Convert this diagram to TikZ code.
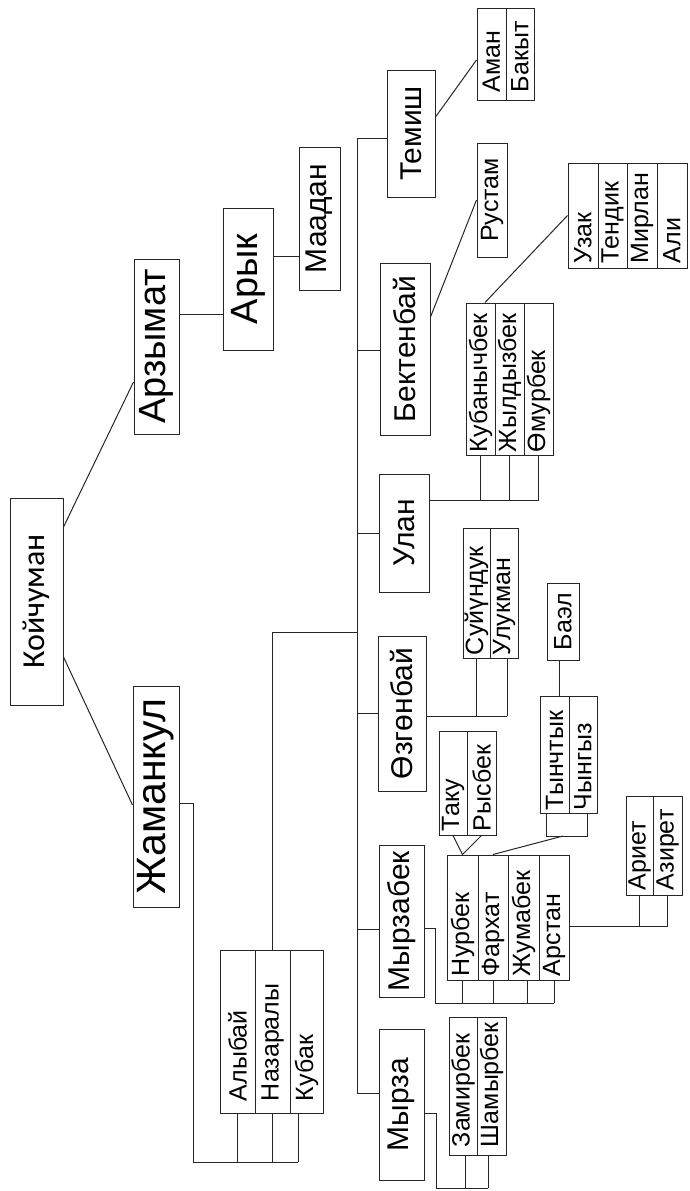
\documentclass[tikz,border=0pt]{standalone}
\usepackage{fontspec}
\setmainfont{Liberation Sans}
\newfontfamily\kojfont{Carlito}
\usepackage{graphicx}
\newcommand{\stretchf}{1.0}
\newcommand{\vt}[1]{\rotatebox{90}{\scalebox{\stretchf}[1]{#1}}}
\newcommand{\szBig}{\fontsize{38}{40}\selectfont}
\newcommand{\szHuge}{\fontsize{41}{43}\selectfont}
\newcommand{\szMed}{\fontsize{30}{32}\selectfont}
\newcommand{\szSm}{\fontsize{25}{27}\selectfont}
\tikzset{
  frame/.style={draw=black!85, line width=1pt, inner sep=0pt, fill=white},
  link/.style={draw=black!85, line width=1pt},
}
% name, x1, x2, y1, y2, font, text
\newcommand{\boxnode}[7]{%
  \node[frame, minimum width={(#3-#2)*1pt}, minimum height={(#5-#4)*1pt}]
    (#1) at ({(#2+#3)/2},{(#4+#5)/2}) {#6\vt{#7}};}
% name, x1, x2, y1, y2, pad, text
\newcommand{\cellnode}[7]{%
  \node[frame, minimum width={(#3-#2)*1pt}, minimum height={(#5-#4)*1pt}]
    (#1) at ({(#2+#3)/2},{(#4+#5)/2})
    {\szSm\rotatebox{90}{\makebox[\dimexpr #5pt-#4pt-#6pt-#6pt\relax][l]{\scalebox{\stretchf}[1]{#7}}}};}
\begin{document}
\begin{tikzpicture}[x=1pt,y=-1pt]
\fill[white] (0,0) rectangle (689,1191);
\useasboundingbox (0,0) rectangle (689,1191);

% ---- boxes ----
\boxnode{koj}{10}{63}{498}{705}{\kojfont\fontsize{32}{34}\selectfont}{Койчуман}
\boxnode{arz}{134}{179}{259}{434}{\szBig}{Арзымат}
\boxnode{zham}{133}{179}{686}{907}{\szHuge}{Жаманкул}
\boxnode{aryk}{223}{273}{208}{350}{\szBig}{Арык}
\boxnode{maadan}{299}{340}{147}{290}{\szMed}{Маадан}
\boxnode{temish}{387}{435}{70}{197}{\szMed}{Темиш}
\boxnode{bekt}{380}{430}{263}{435}{\szMed}{Бектенбай}
\boxnode{rustam}{477}{507}{143}{257}{\szSm}{Рустам}
\boxnode{ulan}{379}{429}{474}{592}{\szMed}{Улан}
\boxnode{ozgon}{378}{426}{636}{791}{\szMed}{Өзгөнбай}
\boxnode{bael}{547}{579}{583}{660}{\szSm}{Баэл}
\boxnode{myrzabek}{379}{424}{845}{997}{\szMed}{Мырзабек}
\boxnode{myrza}{379}{424}{1029}{1180}{\szMed}{Мырза}

\cellnode{aman}{477}{506}{8}{100}{8}{Аман}
\cellnode{bakyt}{506}{534}{8}{100}{8}{Бакыт}

\cellnode{uzak}{568}{598}{163}{268}{5}{Узак}
\cellnode{tendik}{598}{627}{163}{268}{5}{Тендик}
\cellnode{mirlan}{627}{657}{163}{268}{5}{Мирлан}
\cellnode{ali}{657}{687}{163}{268}{5}{Али}

\cellnode{kuban}{466}{495}{303}{455}{3}{Кубанычбек}
\cellnode{zhyld}{495}{524}{303}{455}{3}{Жылдызбек}
\cellnode{omur}{524}{553}{303}{455}{3}{Өмурбек}

\cellnode{suyun}{463}{490}{528}{658}{3}{Суйүндук}
\cellnode{uluk}{490}{518}{528}{658}{3}{Улукман}

\cellnode{tynch}{540}{569}{696}{813}{3}{Тынчтык}
\cellnode{chyng}{569}{597}{696}{813}{3}{Чынгыз}

\cellnode{taku}{439}{467}{731}{835}{4}{Таку}
\cellnode{rysbek}{467}{496}{731}{835}{4}{Рысбек}

\cellnode{nurbek}{447}{478}{855}{980}{4}{Нурбек}
\cellnode{farkhat}{478}{508}{855}{980}{4}{Фархат}
\cellnode{zhumabek}{508}{539}{855}{980}{4}{Жумабек}
\cellnode{arstan}{539}{569}{855}{980}{4}{Арстан}

\cellnode{ariet}{626}{653}{796}{895}{5}{Ариет}
\cellnode{aziret}{653}{682}{796}{895}{5}{Азирет}

\cellnode{zamir}{449}{477}{1017}{1155}{8}{Замирбек}
\cellnode{shamyr}{477}{506}{1017}{1155}{8}{Шамырбек}

\cellnode{alybai}{220}{255}{950}{1113}{12}{Алыбай}
\cellnode{nazar}{255}{290}{950}{1113}{12}{Назаралы}
\cellnode{kubak}{290}{323}{950}{1113}{12}{Кубак}

% ---- connectors ----
\draw[link] (koj.east |- 0,527) -- (arz.west |- 0,382);
\draw[link] (koj.east |- 0,657) -- (zham.west |- 0,805);
\draw[link] (arz.east |- 0,314) -- (aryk.west |- 0,314);
\draw[link] (aryk.east |- 0,256) -- (maadan.west |- 0,256);

% Жаманкул -> Алыбай / Назаралы / Кубак
\coordinate (jb) at (193,1162);
\draw[link] (zham.east |- 0,803) -| (jb) -- (298,1162);
\draw[link] (alybai.south) -- (alybai.south |- jb);
\draw[link] (nazar.south) -- (nazar.south |- jb);
\draw[link] (kubak.south -| 298,0) -- (298,1162);

% trunk
\coordinate (ttop) at (357,138);
\coordinate (tbot) at (357,1093);
\draw[link] (temish.west |- ttop) -- (ttop) -- (tbot) -- (myrza.west |- tbot);
\draw[link] (nazar.north) |- (357,632);
\draw[link] (bekt.west |- 0,350) -- (357,350);
\draw[link] (ulan.west |- 0,533) -- (357,533);
\draw[link] (ozgon.west |- 0,713) -- (357,713);
\draw[link] (myrzabek.west |- 0,929) -- (357,929);

% Темиш -> Аман
\draw[link] (temish.east |- 0,117) -- (aman.west |- 0,60);
% Бектенбай -> Рустам
\draw[link] (bekt.east |- 0,317) -- (rustam.west);
% Кубанычбек -> Узак
\draw[link] (kuban.north -| 485,0) -- (uzak.west);

% Улан -> Кубанычбек ...
\coordinate (ub) at (0,500);
\draw[link] (ulan.east |- ub) -- (omur.south |- ub);
\foreach \c in {kuban,zhyld,omur} \draw[link] (\c.south) -- (\c.south |- ub);

% Өзгөнбай -> Суйүндук / Улукман
\coordinate (ob) at (0,716);
\draw[link] (ozgon.east |- ob) -- (507,716);
\draw[link] (suyun.south) -- (suyun.south |- ob);
\draw[link] (uluk.south -| 507,0) -- (507,716);

% Баэл -> Тынчтык
\draw[link] (bael.south -| 559,0) -- (tynch.north -| 559,0);

% Тынчтык / Чынгыз -> Фархат
\coordinate (tb) at (563,836);
\draw[link] (tynch.south -| 546,0) |- (587,836) -- (chyng.south -| 587,0);
\draw[link] (tb) -- (farkhat.north);

% Таку / Рысбек -> Нурбек
\draw[link] (taku.south) -- (nurbek.north) -- (rysbek.south);

% Мырзабек -> Нурбек ...
\coordinate (mb) at (0,1003);
\draw[link] (myrzabek.east |- 0,928) -| (435,1003) -- (arstan.south |- mb);
\foreach \c in {nurbek,farkhat,arstan} \draw[link] (\c.south) -- (\c.south |- mb);
\draw[link] (zhumabek.south -| 527,0) -- (527,1003);

% Арстан -> Ариет / Азирет
\coordinate (ab) at (0,926);
\draw[link] (arstan.east |- ab) -- (aziret.south |- ab);
\foreach \c in {ariet,aziret} \draw[link] (\c.south) -- (\c.south |- ab);

% Мырза -> Замирбек / Шамырбек
\draw[link] (myrza.east |- 0,1113) -| (436,1188) -- (488,1188);
\draw[link] (zamir.south -| 465,0) -- (465,1188);
\draw[link] (shamyr.south -| 488,0) -- (488,1188);
\end{tikzpicture}
\end{document}
